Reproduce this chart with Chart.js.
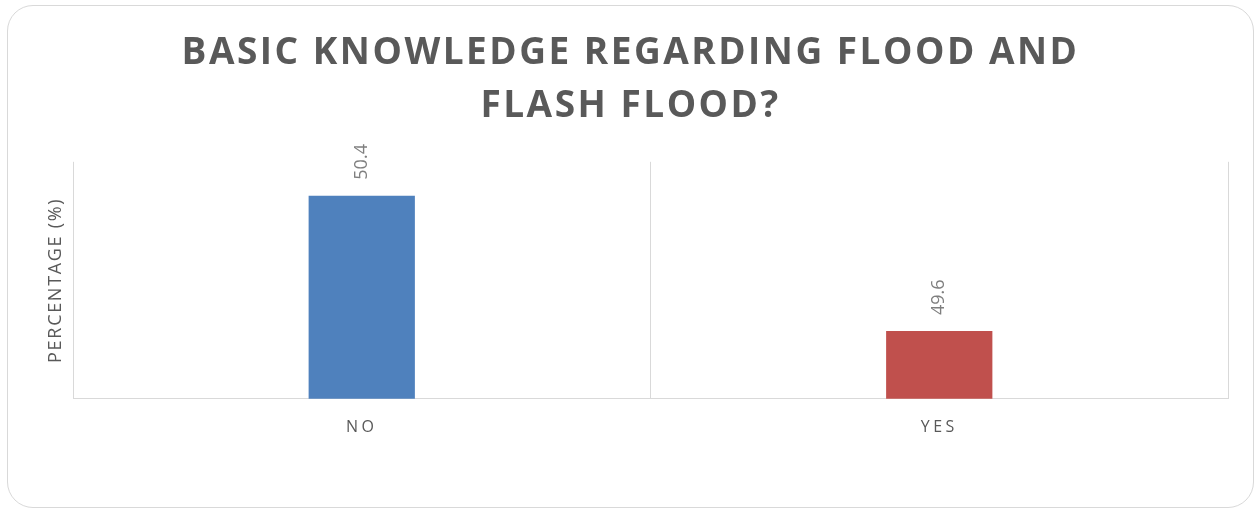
<!DOCTYPE html>
<html>
<head>
<meta charset="utf-8">
<script src="https://cdn.jsdelivr.net/npm/chart.js@4/dist/chart.umd.min.js"></script>
<style>
  body { margin: 0; background: #fff; }
  #wrap { position: relative; width: 1255px; height: 508px; overflow: hidden; }
  #frame { position: absolute; left: 7px; top: 5px; width: 1247px; height: 503px;
           border: 1px solid #d9d9d9; border-radius: 26px; box-sizing: border-box; }
  canvas { position: absolute; left: 0; top: 0; }
</style>
</head>
<body>
<div id="wrap">
  <div id="frame"></div>
  <canvas id="barChart" width="1255" height="508"></canvas>
</div>
<script>
const categories = ['NO', 'YES'];
const percentages = [50.4, 49.6];
const barColors = ['#4f81bd', '#c0504d'];
const titleLines = ['BASIC KNOWLEDGE REGARDING FLOOD AND', 'FLASH FLOOD?'];
const yAxisLabel = 'PERCENTAGE (%)';

// values drawn rotated above each bar
const valueLabels = {
    id: 'valueLabels',
    afterDatasetsDraw(chart) {
        const ctx = chart.ctx;
        const meta = chart.getDatasetMeta(0);
        ctx.save();
        ctx.font = '18px "Open Sans"';
        ctx.fillStyle = '#7f7f7f';
        ctx.textAlign = 'left';
        ctx.textBaseline = 'middle';
        meta.data.forEach((bar, i) => {
            ctx.save();
            ctx.translate(bar.x, bar.y - 16);
            ctx.rotate(-Math.PI / 2);
            ctx.fillText(percentages[i].toFixed(1), 0, 0);
            ctx.restore();
        });
        ctx.restore();
    }
};

// spaced-out letters for the title, category names and axis title
const letterSpacing = {
    id: 'letterSpacing',
    beforeDraw(chart) {
        const ctx = chart.ctx;
        const tb = chart.titleBlock;
        if (tb && !tb._spaced) {
            const orig = tb.draw;
            tb.draw = function () {
                ctx.save();
                ctx.translate(-4, 2);
                ctx.letterSpacing = '2.5px';
                orig.apply(this, arguments);
                ctx.letterSpacing = '0px';
                ctx.restore();
            };
            tb._spaced = true;
        }
        const x = chart.scales.x;
        if (!x._spaced) {
            const origLabels = x.drawLabels;
            x.drawLabels = function () {
                ctx.letterSpacing = '3.5px';
                origLabels.apply(this, arguments);
                ctx.letterSpacing = '0px';
            };
            const y = chart.scales.y;
            const origTitle = y.drawTitle;
            y.drawTitle = function () {
                ctx.letterSpacing = '1.7px';
                origTitle.apply(this, arguments);
                ctx.letterSpacing = '0px';
            };
            x._spaced = true;
        }
    }
};

const ctx = document.getElementById('barChart').getContext('2d');
const chart = new Chart(ctx, {
    type: 'bar',
    data: {
        labels: categories,
        datasets: [{
            data: percentages,
            backgroundColor: barColors,
            barPercentage: 0.184,
            categoryPercentage: 1.0
        }]
    },
    options: {
        responsive: false,
        animation: false,
        layout: {
            padding: { left: 41, right: 27, top: 5, bottom: 52 }
        },
        scales: {
            x: {
                grid: { color: '#d9d9d9', drawTicks: false, offset: true },
                border: { color: '#d9d9d9' },
                ticks: {
                    color: '#595959',
                    padding: 19,
                    font: { family: 'Open Sans', size: 16 }
                }
            },
            y: {
                min: 49.2,
                max: 50.6,
                ticks: { display: false },
                grid: { display: false },
                border: { display: false },
                title: {
                    display: true,
                    text: yAxisLabel,
                    color: '#595959',
                    font: { family: 'Open Sans', size: 18 },
                    padding: { top: 4, bottom: 4 }
                },
                afterFit(scale) { scale.width = 32; }
            }
        },
        plugins: {
            legend: { display: false },
            tooltip: { enabled: false },
            title: {
                display: true,
                text: titleLines,
                color: '#595959',
                font: { family: 'Open Sans', size: 37, weight: 'bold', lineHeight: 1.43 },
                padding: { top: 20, bottom: 31 }
            }
        }
    },
    plugins: [valueLabels, letterSpacing]
});
</script>
</body>
</html>
